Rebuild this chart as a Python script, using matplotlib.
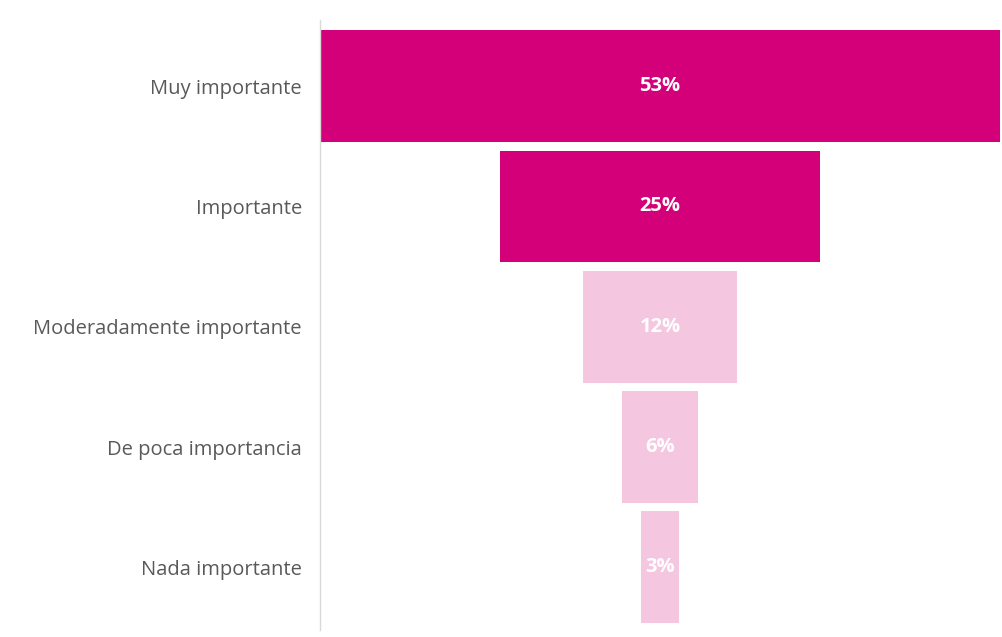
import matplotlib
matplotlib.use("Agg")
import matplotlib.pyplot as plt

plt.rcParams['font.family'] = ['Open Sans', 'DejaVu Sans']

categories = ["Muy importante", "Importante", "Moderadamente importante",
              "De poca importancia", "Nada importante"]
values = [53, 25, 12, 6, 3]
bar_labels = ["53%", "25%", "12%", "6%", "3%"]
colors = ["#D4007A", "#D4007A", "#F5C6E0", "#F5C6E0", "#F5C6E0"]

fig = plt.figure(figsize=(10.02, 6.37), dpi=100)
ax = fig.add_axes([320/1002, 7/637, 680/1002, 610/637])

pos = list(range(len(categories)))
lefts = [-v/2 for v in values]
ax.barh(pos, values, left=lefts, height=0.93, color=colors)

for p, v, lab in zip(pos, values, bar_labels):
    ax.text(0, p, lab, ha='center', va='center', color='white',
            fontsize=14.5, fontweight='bold')

ax.set_xlim(-26.5, 26.5)
ax.set_ylim(4.52, -0.55)
ax.set_yticks(pos)
ax.set_yticklabels(categories, fontsize=14.5, color='#595959')
ax.tick_params(axis='y', length=0, pad=13)
ax.set_xticks([])
for s in ['top', 'right', 'bottom']:
    ax.spines[s].set_visible(False)
ax.spines['left'].set_color('#D9D9D9')
ax.spines['left'].set_linewidth(1)

fig.savefig("out.png", dpi=100)
